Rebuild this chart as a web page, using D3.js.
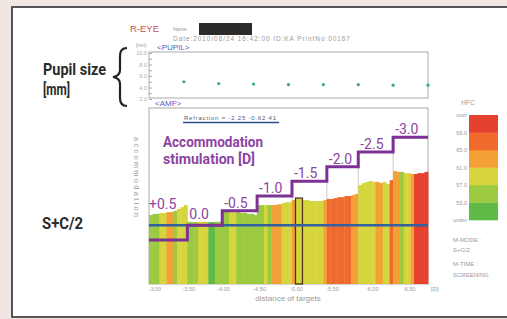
<!DOCTYPE html>
<html>
<head>
<meta charset="utf-8">
<script src="https://cdn.jsdelivr.net/npm/d3@7"></script>
<style>
  body { margin: 0; background: #f0e7e2; }
  svg { display: block; }
</style>
</head>
<body>
<div id="vis-holder"></div>
<script>
// Canvas and plot frame
const width = 507;
const height = 319;
const plot = { left: 149, right: 428, top: 108, bottom: 284 };
const pupilTop = 52, pupilBottom = 98;

// Accommodation stimulus per step [D] and where each step starts (sample index)
const stimulus = [0.5, 0.0, -0.5, -1.0, -1.5, -2.0, -2.5, -3.0];
const stimulusLabels = ["+0.5", "0.0", "-0.5", "-1.0", "-1.5", "-2.0", "-2.5", "-3.0"];
const stepStart = [0, 11, 21, 31, 41, 51, 60, 70, 80];

// Pupil size [mm] at the end of each step
const pupilIdx = [10, 20, 30, 40, 50, 60, 70, 80];
const pupilSize = [5.0, 4.7, 4.6, 4.5, 4.5, 4.5, 4.4, 4.4];
const pupilTicks = [2, 4, 6, 8, 10];

// Accommodation response per sample [D] (relative to refraction line)
const response = [
  -0.35, -0.39, -0.39, -0.42, -0.42, -0.45, -0.45, -0.49, -0.56, -0.62, -0.69,
  -0.12, -0.11, -0.11, -0.12, -0.13, -0.12, -0.11, -0.11, -0.12, -0.12,
  -0.49, -0.49, -0.45, -0.45, -0.45, -0.42, -0.42, -0.39, -0.39, -0.35,
  -0.69, -0.69, -0.70, -0.69, -0.69, -0.70, -0.72, -0.76, -0.79, -0.79,
  -0.86, -0.93, -0.90, -0.86, -0.86, -0.83, -0.83, -0.83, -0.83, -0.86,
  -0.90, -0.90, -0.93, -0.96, -0.96, -1.00, -1.00, -1.03, -1.07,
  -1.37, -1.44, -1.48, -1.51, -1.48, -1.48, -1.44, -1.48, -1.41, -1.54,
  -1.85, -1.82, -1.82, -1.78, -1.78, -1.75, -1.75, -1.78, -1.78, -1.82
];

// High frequency component value per sample
const hfc = [
  55, 56, 55, 59, 58, 62, 63, 56, 59, 60, 59,
  55, 56, 55, 58, 59, 58, 52, 51, 55, 56,
  55, 54, 58, 59, 55, 55, 56, 54, 55, 55,
  56, 56, 57.5, 56, 63, 62, 63, 59, 60, 59,
  61.5, 60, 60, 59, 58, 59, 59, 58, 59, 62,
  66, 67, 66, 67, 66, 67, 66, 64, 63,
  59, 60, 59, 58, 59, 63, 62, 60, 59, 66,
  64, 63, 56, 59, 60, 63, 70, 71, 72, 70
];
const selectedIdx = 42;

// HFC legend
const hfcBreaks = [53, 57, 61, 65, 69];
const hfcColors = ["#60ba47", "#9bc93f", "#d7d53e", "#f3a137", "#ee6b2d", "#e6402f"];
const hfcLabels = ["under", "53.0", "57.0", "61.0", "65.0", "69.0", "over"];

// Distance of targets axis
const distTicks = ["-3.00", "-3.50", "-4.00", "-4.50", "-5.00", "-5.50", "-6.00", "-6.50"];
const distTickIdx = [1.7, 11.4, 21.4, 31.7, 42.3, 52.6, 64, 74.6];

const purple = "#7d3196";
const labelPurple = "#8c44a3";
const grey = "#9a9a9a";
const smallFont = "Liberation Sans, Arial, sans-serif";
const boldFont = "Roboto, Liberation Sans, sans-serif";

const svg = d3.select("#vis-holder")
              .append("svg")
              .attr("width", width)
              .attr("height", height);

// Background and printout panel
svg.append("rect")
   .attr("width", width)
   .attr("height", height)
   .attr("fill", "#f0e7e2");

svg.append("rect")
   .attr("x", 12)
   .attr("y", 7)
   .attr("width", 530)
   .attr("height", 310)
   .attr("fill", "#ffffff")
   .attr("stroke", "#555")
   .attr("stroke-width", 2);

// Scales
const x = d3.scaleLinear()
            .domain([0, response.length])
            .range([plot.left, plot.right]);

const y = d3.scaleLinear()
            .domain([2, -4])
            .range([plot.bottom, plot.top]);

const yPupil = d3.scaleLinear()
                 .domain([2, 10])
                 .range([pupilBottom + 1, pupilTop + 1]);

const color = d3.scaleThreshold()
                .domain(hfcBreaks)
                .range(hfcColors);

// Header
svg.append("text")
   .attr("x", 130).attr("y", 32)
   .attr("font-family", smallFont)
   .attr("font-size", 9.5)
   .attr("fill", "#c9505b")
   .text("R-EYE");

svg.append("text")
   .attr("x", 173).attr("y", 31)
   .attr("font-family", smallFont)
   .attr("font-size", 5)
   .attr("fill", grey)
   .text("Name:");

svg.append("rect")
   .attr("x", 199).attr("y", 23)
   .attr("width", 53).attr("height", 12)
   .attr("fill", "#2b2b2b");

svg.append("text")
   .attr("x", 173).attr("y", 41)
   .attr("font-family", smallFont)
   .attr("font-size", 6.5)
   .attr("fill", grey)
   .attr("textLength", 177)
   .text("Date:2010/08/24 16:42:00   ID:KA    PrintNo:00167");

// Pupil panel
svg.append("text")
   .attr("x", 136).attr("y", 47)
   .attr("font-family", smallFont)
   .attr("font-size", 4.5)
   .attr("fill", grey)
   .text("[mm]");

svg.append("text")
   .attr("x", 157).attr("y", 50)
   .attr("font-family", smallFont)
   .attr("font-size", 8)
   .attr("fill", "#5560c0")
   .text("<PUPIL>");

svg.append("rect")
   .attr("x", plot.left).attr("y", pupilTop)
   .attr("width", plot.right - plot.left)
   .attr("height", pupilBottom - pupilTop)
   .attr("fill", "none")
   .attr("stroke", "#aaa");

svg.append("g")
   .attr("transform", `translate(${plot.left},0)`)
   .call(d3.axisRight(yPupil).tickValues(d3.range(2, 10.1, 1)).tickSize(3).tickFormat(""))
   .call((g) => g.select(".domain").remove())
   .call((g) => g.selectAll("line").attr("stroke", "#aaa"));

svg.append("g")
   .selectAll("text")
   .data(pupilTicks)
   .enter()
   .append("text")
     .attr("x", plot.left - 2)
     .attr("y", (d) => yPupil(d) + 2)
     .attr("text-anchor", "end")
     .attr("font-family", smallFont)
     .attr("font-size", 5.5)
     .attr("fill", "#aaa")
     .text((d) => d3.format(".1f")(d));

svg.append("g")
   .selectAll("circle")
   .data(pupilSize)
   .enter()
   .append("circle")
     .attr("cx", (d, i) => x(pupilIdx[i]))
     .attr("cy", (d) => yPupil(d))
     .attr("r", 1.6)
     .attr("fill", "#3aa39a");

// AMF panel
svg.append("text")
   .attr("x", 155).attr("y", 106)
   .attr("font-family", smallFont)
   .attr("font-size", 8)
   .attr("fill", "#5560c0")
   .text("<AMF>");

svg.append("rect")
   .attr("x", plot.left).attr("y", plot.top)
   .attr("width", plot.right - plot.left)
   .attr("height", plot.bottom - plot.top)
   .attr("fill", "none")
   .attr("stroke", "#aaa");

// step boundary grid lines
svg.append("g")
   .selectAll("line")
   .data(stepStart.slice(1, -1))
   .enter()
   .append("line")
     .attr("x1", (d) => x(d)).attr("x2", (d) => x(d))
     .attr("y1", (d, i) => y(stimulus[i]))
     .attr("y2", plot.bottom)
     .attr("stroke", "#c8c8c8");

// bars coloured by HFC
svg.append("g")
   .selectAll("rect")
   .data(response)
   .enter()
   .append("rect")
     .attr("x", (d, i) => x(i))
     .attr("y", (d) => y(d))
     .attr("width", x(1) - x(0) + 0.4)
     .attr("height", (d) => plot.bottom - y(d))
     .attr("fill", (d, i) => color(hfc[i]));

// selected sample outline
svg.append("rect")
   .attr("x", x(selectedIdx))
   .attr("y", y(response[selectedIdx]))
   .attr("width", (x(1) - x(0)) * 2)
   .attr("height", plot.bottom - y(response[selectedIdx]))
   .attr("fill", "none")
   .attr("stroke", "#4d3418")
   .attr("stroke-width", 1.3);

// refraction line (S+C/2)
svg.append("line")
   .attr("x1", plot.left).attr("x2", plot.right)
   .attr("y1", y(0)).attr("y2", y(0))
   .attr("stroke", "#33609f")
   .attr("stroke-width", 2.5);

// stimulus staircase
const stairs = stimulus.map((s, i) => [stepStart[i], s]);
stairs.push([stepStart[stepStart.length - 1], stimulus[stimulus.length - 1]]);

svg.append("path")
   .datum(stairs)
   .attr("fill", "none")
   .attr("stroke", purple)
   .attr("stroke-width", 3)
   .attr("d", d3.line().x((d) => x(d[0])).y((d) => y(d[1])).curve(d3.curveStepAfter));

// step labels sit above the step line or the bars under them
svg.append("g")
   .selectAll("text")
   .data(stimulusLabels)
   .enter()
   .append("text")
     .attr("x", (d, i) => x(stepStart[i]) + (i === 0 ? 0 : 2))
     .attr("y", (d, i) => {
        const under = response.slice(stepStart[i], stepStart[i] + 7);
        return Math.min(y(stimulus[i]), y(d3.min(under))) - 3;
     })
     .attr("font-family", boldFont)
     .attr("font-size", 14)
     .attr("fill", labelPurple)
     .text((d) => d);

svg.append("text")
   .attr("x", 163).attr("y", 147)
   .attr("font-family", boldFont)
   .attr("font-weight", "bold")
   .attr("font-size", 14)
   .attr("fill", labelPurple)
   .attr("textLength", 100)
   .attr("lengthAdjust", "spacingAndGlyphs")
   .text("Accommodation");

svg.append("text")
   .attr("x", 163).attr("y", 164)
   .attr("font-family", boldFont)
   .attr("font-weight", "bold")
   .attr("font-size", 14)
   .attr("fill", labelPurple)
   .attr("textLength", 92)
   .attr("lengthAdjust", "spacingAndGlyphs")
   .text("stimulation [D]");

// refraction text
svg.append("text")
   .attr("x", 184).attr("y", 120)
   .attr("font-family", smallFont)
   .attr("font-size", 6)
   .attr("fill", "#555a7a")
   .attr("textLength", 92)
   .text("Refraction = -2.25   -0.62   41");

svg.append("line")
   .attr("x1", 183).attr("x2", 279)
   .attr("y1", 122.5).attr("y2", 122.5)
   .attr("stroke", "#2c4a8c")
   .attr("stroke-width", 1.5);

// vertical axis title
svg.append("text")
   .attr("transform", "translate(134,137) rotate(90)")
   .attr("font-family", smallFont)
   .attr("font-size", 7.5)
   .attr("fill", grey)
   .attr("textLength", 80)
   .text("accommodation");

// x axis labels
svg.append("g")
   .selectAll("text")
   .data(distTicks)
   .enter()
   .append("text")
     .attr("x", (d, i) => x(distTickIdx[i]))
     .attr("y", 291)
     .attr("text-anchor", "middle")
     .attr("font-family", smallFont)
     .attr("font-size", 5.5)
     .attr("fill", grey)
     .text((d) => d);

svg.append("text")
   .attr("x", 431).attr("y", 291)
   .attr("font-family", smallFont)
   .attr("font-size", 6)
   .attr("fill", grey)
   .text("[D]");

svg.append("text")
   .attr("x", 288).attr("y", 301)
   .attr("text-anchor", "middle")
   .attr("font-family", smallFont)
   .attr("font-size", 8)
   .attr("fill", grey)
   .text("distance of targets");

// HFC legend
const yLeg = d3.scaleLinear()
               .domain([0, hfcColors.length])
               .range([220, 115]);

svg.append("text")
   .attr("x", 468).attr("y", 105)
   .attr("text-anchor", "middle")
   .attr("font-family", smallFont)
   .attr("font-size", 6.5)
   .attr("fill", grey)
   .text("HFC");

svg.append("g")
   .selectAll("rect")
   .data(hfcColors)
   .enter()
   .append("rect")
     .attr("x", 469)
     .attr("y", (d, i) => yLeg(i + 1))
     .attr("width", 29)
     .attr("height", (d, i) => yLeg(i) - yLeg(i + 1) + 0.3)
     .attr("fill", (d) => d);

svg.append("g")
   .selectAll("text")
   .data(hfcLabels)
   .enter()
   .append("text")
     .attr("x", 467)
     .attr("y", (d, i) => yLeg(i) + 2)
     .attr("text-anchor", "end")
     .attr("font-family", smallFont)
     .attr("font-size", 5.5)
     .attr("fill", grey)
     .text((d) => d);

const modeLines = [["M-MODE :", 241.5], ["S+C/2", 251.5], ["M-TIME :", 265.5], ["SCREENING", 276.5]];
svg.append("g")
   .selectAll("text")
   .data(modeLines)
   .enter()
   .append("text")
     .attr("x", 453)
     .attr("y", (d) => d[1])
     .attr("font-family", smallFont)
     .attr("font-size", 6)
     .attr("fill", grey)
     .text((d) => d[0]);

// Left annotations
svg.append("text")
   .attr("x", 43).attr("y", 75)
   .attr("font-family", boldFont)
   .attr("font-weight", "bold")
   .attr("font-size", 16)
   .attr("fill", "#2b2b2b")
   .attr("textLength", 63)
   .attr("lengthAdjust", "spacingAndGlyphs")
   .text("Pupil size");

svg.append("text")
   .attr("x", 43).attr("y", 95)
   .attr("font-family", boldFont)
   .attr("font-weight", "bold")
   .attr("font-size", 16)
   .attr("fill", "#2b2b2b")
   .attr("textLength", 27)
   .attr("lengthAdjust", "spacingAndGlyphs")
   .text("[mm]");

svg.append("text")
   .attr("x", 42).attr("y", 229)
   .attr("font-family", boldFont)
   .attr("font-weight", "bold")
   .attr("font-size", 16)
   .attr("fill", "#2b2b2b")
   .attr("textLength", 41)
   .attr("lengthAdjust", "spacingAndGlyphs")
   .text("S+C/2");

// curly brace
svg.append("path")
   .attr("d", "M127,48 Q120,48 120,56 L120,70 Q120,76 113,77 Q120,78 120,84 L120,98 Q120,106 127,106")
   .attr("fill", "none")
   .attr("stroke", "#222")
   .attr("stroke-width", 2.2);
</script>
</body>
</html>
